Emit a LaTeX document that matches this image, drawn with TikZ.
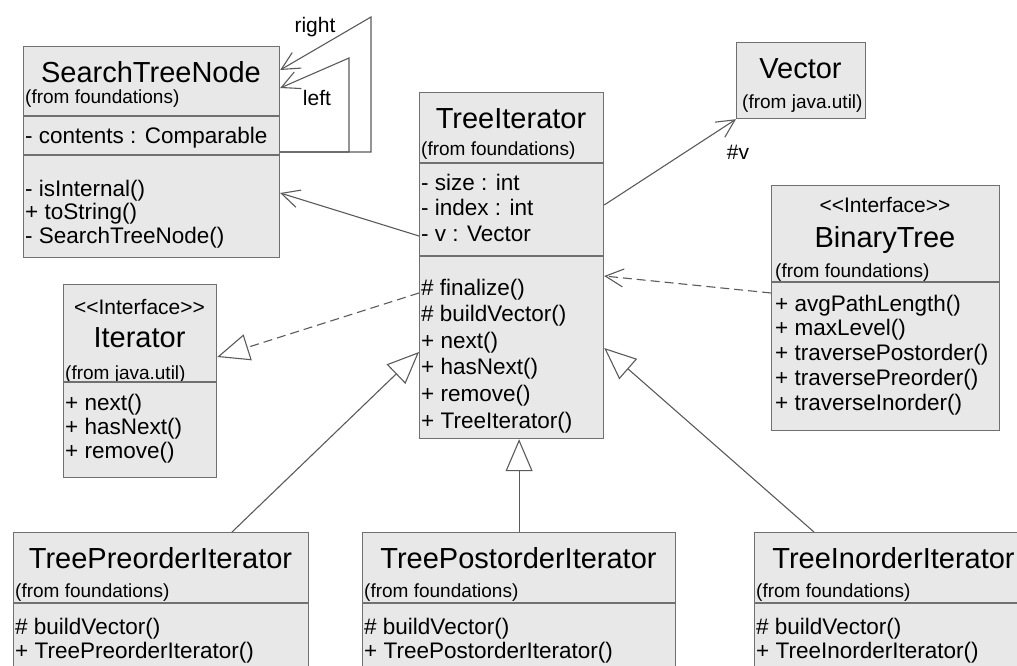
\documentclass[tikz,border=0pt]{standalone}
\usepackage{fontspec}
\setmainfont{Liberation Sans}
\usetikzlibrary{arrows.meta, positioning}

\definecolor{classfill}{RGB}{232,232,232}
\definecolor{classline}{RGB}{112,112,112}
\definecolor{wire}{RGB}{90,90,90}

\begin{document}
\begin{tikzpicture}[
  x=1pt, y=-1pt,
  cls/.style={draw=classline, fill=classfill, line width=1.2pt, inner sep=0pt, anchor=north west},
  sep/.style={draw=classline, line width=1.2pt},
  title/.style={font=\fontsize{29}{33}\selectfont, inner sep=0pt, text height=21pt, text depth=0pt},
  stereo/.style={font=\fontsize{21}{25}\selectfont, inner sep=0pt, text height=15pt, text depth=0pt},
  pkg/.style={font=\fontsize{19}{22}\selectfont, inner sep=0pt, text height=14pt, text depth=0pt, anchor=west},
  member/.style={font=\fontsize{22.5}{26}\selectfont, inner sep=0pt, text height=16pt, text depth=0pt, anchor=west},
  role/.style={font=\fontsize{21}{25}\selectfont, inner sep=0pt, text height=15pt, text depth=0pt},
  assoc/.style={draw=wire, line width=1.1pt, -{Straight Barb[length=18pt, width=18pt]}},
  depend/.style={assoc, dash pattern=on 9pt off 5pt},
  gen/.style={draw=wire, line width=1.1pt, -{Triangle[open, length=32pt, width=27pt]}},
  realize/.style={gen, dash pattern=on 9pt off 5pt}
]
\useasboundingbox (0,0) rectangle (1017,666);
\clip (0,0) rectangle (1017,666);

% classes
\node[cls, minimum width=256pt, minimum height=211pt] (stn) at (23,46) {};
\node[cls, minimum width=184pt, minimum height=346pt] (ti) at (419,92) {};
\node[cls, minimum width=129pt, minimum height=76pt] (vec) at (736,42) {};
\node[cls, minimum width=228pt, minimum height=245pt] (bt) at (771,185) {};
\node[cls, minimum width=153pt, minimum height=193pt] (it) at (63,284) {};
\node[cls, minimum width=295pt, minimum height=145pt] (tpre) at (13,532) {};
\node[cls, minimum width=313pt, minimum height=145pt] (tpost) at (362,532) {};
\node[cls, minimum width=279pt, minimum height=145pt] (tin) at (754,532) {};

% SearchTreeNode
\node[title] (stn-name) at (151,72) {SearchTreeNode};
\node[pkg] (stn-pkg) at (25,97) {(from foundations)};
\draw[sep] (stn.west |- 0,116) -- (stn.east |- 0,116);
\node[member] (stn-attr) at (25,135) {- contents : Comparable};
\draw[sep] (stn.west |- 0,155) -- (stn.east |- 0,155);
\foreach \txt [count=\i] in {- isInternal(), + toString(), - SearchTreeNode()}
  \node[member] (stn-op\i) at (25,164.5+23.5*\i) {\txt};

% TreeIterator
\node[title] (ti-name) at (511,118) {TreeIterator};
\node[pkg] (ti-pkg) at (421,149) {(from foundations)};
\draw[sep] (ti.west |- 0,163) -- (ti.east |- 0,163);
\foreach \txt [count=\i] in {- size : int, - index : int, - v : Vector}
  \node[member] (ti-attr\i) at (421,156.5+25.5*\i) {\txt};
\draw[sep] (ti.west |- 0,256) -- (ti.east |- 0,256);
\foreach \txt [count=\i] in {\# finalize(), \# buildVector(), + next(), + hasNext(), + remove(), + TreeIterator()}
  \node[member] (ti-op\i) at (421,260.4+26.6*\i) {\txt};

% Vector
\node[title] (vec-name) at (800.5,68) {Vector};
\node[pkg] (vec-pkg) at (742,102) {(from java.util)};

% BinaryTree
\node[stereo] (bt-stereo) at (885,205) {<\kern0pt<Interface>\kern0pt>};
\node[title] (bt-name) at (885,237) {BinaryTree};
\node[pkg] (bt-pkg) at (775,270) {(from foundations)};
\draw[sep] (bt.west |- 0,282) -- (bt.east |- 0,282);
\foreach \txt [count=\i] in {+ avgPathLength(), + maxLevel(), + traversePostorder(), + traversePreorder(), + traverseInorder()}
  \node[member] (bt-op\i) at (775,278.25+24.75*\i) {\txt};

% Iterator
\node[stereo] (it-stereo) at (139.5,307) {<\kern0pt<Interface>\kern0pt>};
\node[title] (it-name) at (139.5,337) {Iterator};
\node[pkg] (it-pkg) at (65,372) {(from java.util)};
\draw[sep] (it.west |- 0,382) -- (it.east |- 0,382);
\foreach \txt [count=\i] in {+ next(), + hasNext(), + remove()}
  \node[member] (it-op\i) at (65,378+24*\i) {\txt};

% subclasses
\node[title] (tpre-name) at (160.5,558) {TreePreorderIterator};
\node[pkg] (tpre-pkg) at (15,590) {(from foundations)};
\draw[sep] (tpre.west |- 0,603) -- (tpre.east |- 0,603);
\node[member] (tpre-op1) at (15,626) {\# buildVector()};
\node[member] (tpre-op2) at (15,650) {+ TreePreorderIterator()};

\node[title] (tpost-name) at (518.5,558) {TreePostorderIterator};
\node[pkg] (tpost-pkg) at (364,590) {(from foundations)};
\draw[sep] (tpost.west |- 0,603) -- (tpost.east |- 0,603);
\node[member] (tpost-op1) at (364,626) {\# buildVector()};
\node[member] (tpost-op2) at (364,650) {+ TreePostorderIterator()};

\node[title] (tin-name) at (893.5,558) {TreeInorderIterator};
\node[pkg] (tin-pkg) at (756,590) {(from foundations)};
\draw[sep] (tin.west |- 0,603) -- (tin.east |- 0,603);
\node[member] (tin-op1) at (756,626) {\# buildVector()};
\node[member] (tin-op2) at (756,650) {+ TreeInorderIterator()};

% relations
\draw[assoc] (stn.east |- 0,152) -| (371,17) -- (stn.east |- 0,70);
\draw[assoc] (stn.east |- 0,152) -| (349,58) -- (stn.east |- 0,88);
\node[role] (right-lbl) at (315,25) {right};
\node[role] (left-lbl) at (317,98) {left};

\draw[assoc] (ti.west |- 0,236) -- (stn.east |- 0,193);
\draw[assoc] (ti.east |- 0,205) -- (vec.south west);
\node[role] (v-lbl) at (738,152) {\#v};
\draw[depend] (bt.west |- 0,293) -- (ti.east |- 0,276);
\draw[realize] (ti.west |- 0,293) -- (it.east |- 0,357);

\draw[gen] (tpre.north -| 232,0) -- (ti.west |- 0,352);
\draw[gen] (tpost.north) -- (tpost.north |- ti.south);
\draw[gen] (tin.north -| 814,0) -- (ti.east |- 0,348);
\end{tikzpicture}
\end{document}
